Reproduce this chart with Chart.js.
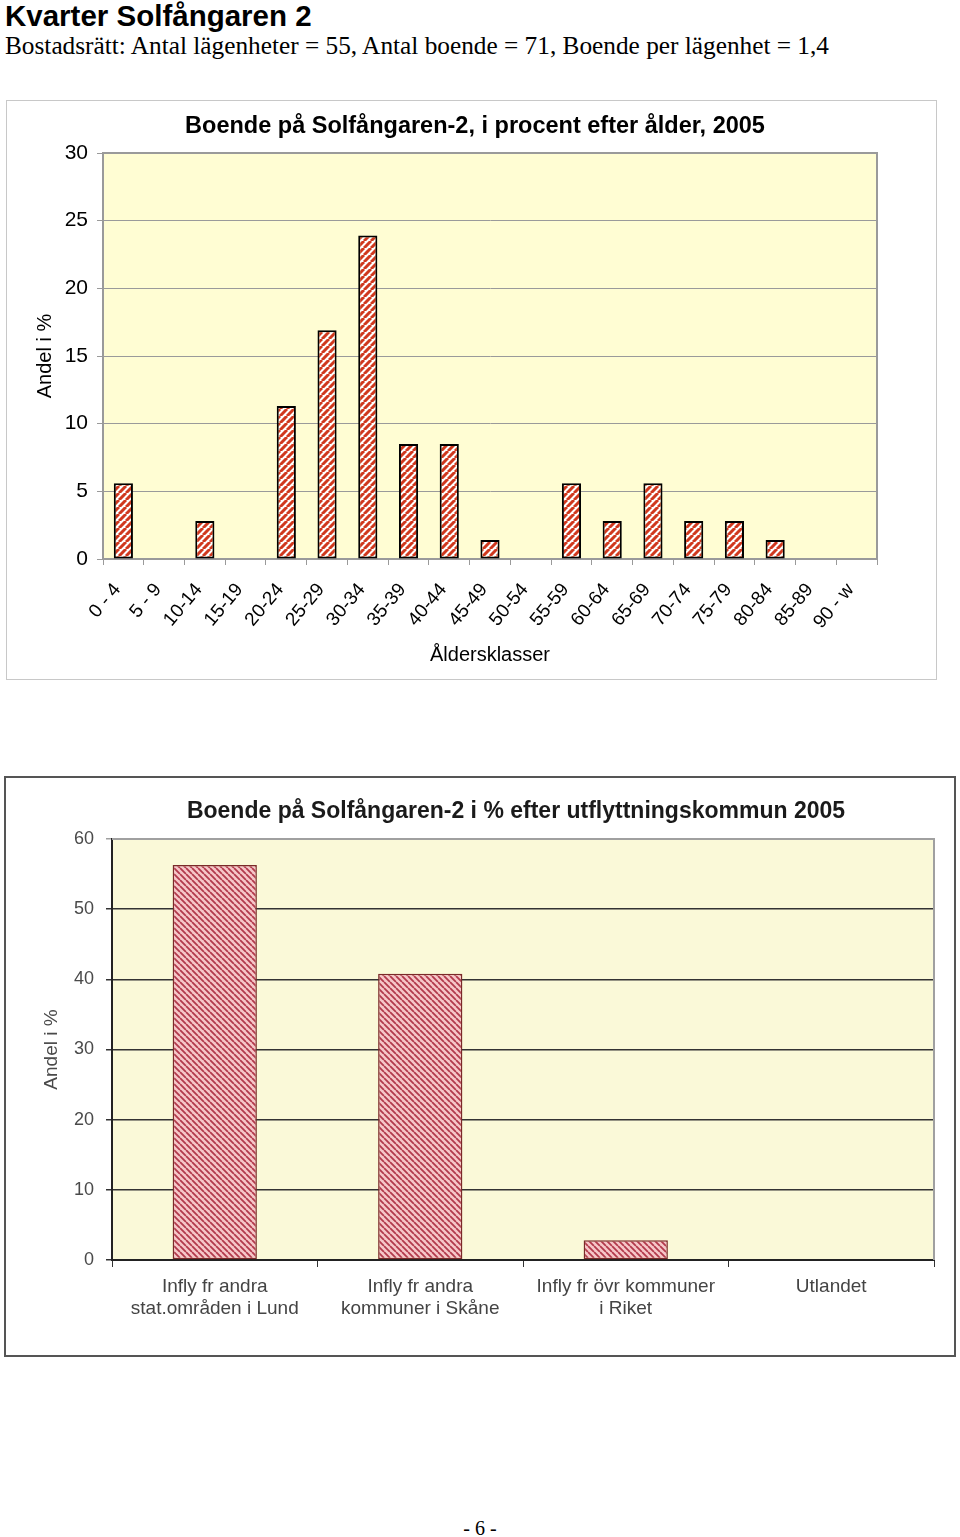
<!DOCTYPE html>
<html><head><meta charset="utf-8">
<script src="https://cdn.jsdelivr.net/npm/chart.js@4.4.1/dist/chart.umd.min.js"></script>
<style>
html,body{margin:0;padding:0;background:#fff;}
body{width:960px;height:1537px;position:relative;overflow:hidden;font-family:"Liberation Sans",Arial,sans-serif;}
.abs{position:absolute;white-space:nowrap;}
#h1{left:5px;top:1px;font:bold 29.5px/29px "Liberation Sans",Arial,sans-serif;color:#000;}
#h2{left:5px;top:33px;font:25.3px/25px "Liberation Serif","Times New Roman",serif;color:#000;}
#box1{left:6px;top:100px;width:929px;height:578px;border:1px solid #c8c8c8;}
#box2{left:4px;top:776px;width:948px;height:577px;border:2px solid #555;}
#box1 canvas,#box2 canvas{display:block;}
.ct{transform:translateX(-50%);}
#t1{left:475px;top:111px;font:bold 23.5px/28px "Liberation Sans",Arial,sans-serif;color:#000;}
#t2{left:516px;top:796px;font:bold 23px/28px "Liberation Sans",Arial,sans-serif;color:#1a1a1a;}
#pg{left:0;width:960px;top:1518px;text-align:center;font:20px/20px "Liberation Serif","Times New Roman",serif;}
</style></head>
<body>
<div id="h1" class="abs">Kvarter Solfångaren 2</div>
<div id="h2" class="abs">Bostadsrätt: Antal lägenheter = 55, Antal boende = 71, Boende per lägenhet = 1,4</div>
<div id="box1" class="abs"><canvas id="c1" width="929" height="578"></canvas></div>
<div id="t1" class="abs ct">Boende på Solfångaren-2, i procent efter ålder, 2005</div>
<div id="box2" class="abs"><canvas id="c2" width="948" height="577"></canvas></div>
<div id="t2" class="abs ct">Boende på Solfångaren-2 i % efter utflyttningskommun 2005</div>
<div id="pg" class="abs">- 6 -</div>
<script>
// ---- data ----
const ageClasses = ['0 - 4','5 - 9','10-14','15-19','20-24','25-29','30-34','35-39','40-44','45-49','50-54','55-59','60-64','65-69','70-74','75-79','80-84','85-89','90 - w'];
const ageShares = [5.6,0,2.8,0,11.3,16.9,23.9,8.5,8.5,1.4,0,5.6,2.8,5.6,2.8,2.8,1.4,0,0];
const originLabels = [['Infly fr andra','stat.områden i Lund'],['Infly fr andra','kommuner i Skåne'],['Infly fr övr kommuner','i Riket'],['Utlandet']];
const originShares = [56.3,40.8,2.8,0];

Chart.defaults.font.family = '"Liberation Sans", Arial, sans-serif';
Chart.defaults.animation = false;

function stripes(bg, fg, size, lw, dir) {
  const c = document.createElement('canvas');
  c.width = c.height = size;
  const x = c.getContext('2d');
  x.fillStyle = bg; x.fillRect(0, 0, size, size);
  x.strokeStyle = fg; x.lineWidth = lw;
  x.beginPath();
  for (let k = -1; k <= 1; k++) {
    if (dir > 0) { x.moveTo(k * size, size); x.lineTo(k * size + size, 0); }
    else { x.moveTo(k * size, 0); x.lineTo(k * size + size, size); }
  }
  x.stroke();
  return x.createPattern(c, 'repeat');
}

const plotFrame = {
  id: 'plotFrame',
  beforeDraw(chart, args, o) {
    const a = chart.chartArea, ctx = chart.ctx;
    ctx.save(); ctx.fillStyle = o.bg; ctx.fillRect(a.left, a.top, a.right - a.left, a.bottom - a.top); ctx.restore();
  },
  beforeDatasetsDraw(chart, args, o) {
    const a = chart.chartArea, ctx = chart.ctx;
    ctx.save(); ctx.strokeStyle = o.frame; ctx.lineWidth = o.width;
    ctx.beginPath(); ctx.moveTo(a.left, a.top); ctx.lineTo(a.right, a.top); ctx.lineTo(a.right, a.bottom); ctx.stroke();
    ctx.restore();
  }
};

new Chart(document.getElementById('c1'), {
  type: 'bar',
  data: { labels: ageClasses, datasets: [{
    data: ageShares,
    backgroundColor: stripes('#ffffff', '#d0381e', 7, 3, 1),
    borderColor: '#000',
    borderWidth: c => (c.raw === 0 ? 0 : 2),
    borderSkipped: false,
    barPercentage: 0.47, categoryPercentage: 1
  }]},
  options: {
    responsive: false,
    layout: { padding: { left: 0, right: 59, top: 52, bottom: 0 } },
    plugins: { legend: { display: false }, tooltip: { enabled: false }, plotFrame: { bg: '#fffdd3', frame: '#9a9a9a', width: 2 } },
    scales: {
      y: {
        min: 0, max: 30,
        ticks: { stepSize: 5, font: { size: 21 }, color: '#000', padding: 9 },
        grid: { color: '#9a9a9a', lineWidth: 1, tickLength: 6 },
        border: { color: '#9a9a9a', width: 2 },
        title: { display: true, text: 'Andel i %', font: { size: 20 }, color: '#000', padding: { top: 26, bottom: 0 } },
        afterFit: s => { s.width = 96; }
      },
      x: {
        ticks: { font: { size: 19 }, color: '#000', maxRotation: 50, minRotation: 50, padding: 14, labelOffset: -6, autoSkip: false },
        grid: { drawOnChartArea: false, color: '#9a9a9a', tickLength: 6, offset: true },
        border: { color: '#9a9a9a', width: 2 },
        title: { display: true, text: 'Åldersklasser', font: { size: 20 }, color: '#000', padding: { top: 0, bottom: 12 } },
        afterFit: s => { s.height = 120; }
      }
    }
  },
  plugins: [plotFrame]
});

new Chart(document.getElementById('c2'), {
  type: 'bar',
  data: { labels: originLabels, datasets: [{
    data: originShares,
    backgroundColor: stripes('#f6c6c8', '#b23a4c', 6, 1.8, -1),
    borderColor: '#7a2a2a',
    borderWidth: c => (c.raw === 0 ? 0 : 1.5),
    borderSkipped: false,
    barPercentage: 0.41, categoryPercentage: 1
  }]},
  options: {
    responsive: false,
    layout: { padding: { left: 0, right: 20, top: 61, bottom: 0 } },
    plugins: { legend: { display: false }, tooltip: { enabled: false }, plotFrame: { bg: '#faf9d8', frame: '#a0a0a0', width: 2 } },
    scales: {
      y: {
        min: 0, max: 60,
        ticks: { stepSize: 10, font: { size: 18 }, color: '#4a4a4a', padding: 12 },
        grid: { color: c => (c.tick && c.tick.value === 60 ? '#a0a0a0' : '#333'), lineWidth: 1.5, tickLength: 6 },
        border: { color: '#222', width: 2 },
        title: { display: true, text: 'Andel i %', font: { size: 19 }, color: '#4a4a4a', padding: { top: 34, bottom: 0 } },
        afterFit: s => { s.width = 106; }
      },
      x: {
        ticks: { font: { size: 19 }, color: '#444', maxRotation: 0, minRotation: 0, padding: 8, autoSkip: false },
        grid: { drawOnChartArea: false, color: '#333', tickLength: 7, offset: true },
        border: { color: '#222', width: 2 },
        afterFit: s => { s.height = 95; }
      }
    }
  },
  plugins: [plotFrame]
});
</script>
</body></html>
